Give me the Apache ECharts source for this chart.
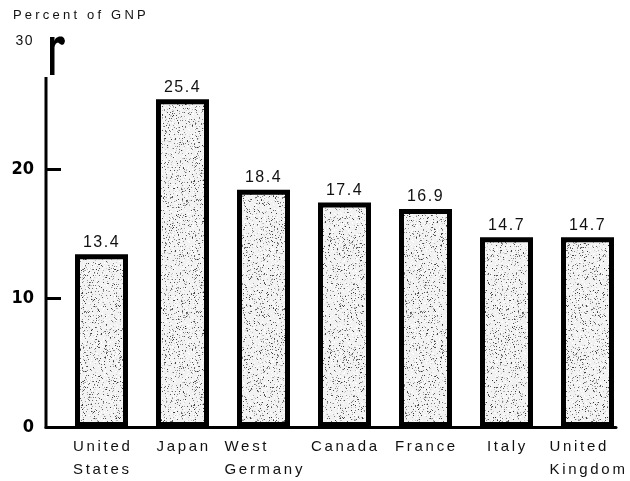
<!DOCTYPE html>
<html>
<head>
<meta charset="utf-8">
<script src="https://cdn.jsdelivr.net/npm/echarts@6/dist/echarts.min.js"></script>
<style>
  html, body { margin: 0; padding: 0; background: #fff; }
  #chart { width: 630px; height: 481px; }
</style>
</head>
<body>
<div id="chart"></div>
<script>
// Gross fixed investment as a share of GNP, by country
const countries = ['United\nStates', 'Japan', 'West\nGermany', 'Canada', 'France', 'Italy', 'United\nKingdom'];
const investmentShare = [13.4, 25.4, 18.4, 17.4, 16.9, 14.7, 14.7];
const yTicks = [0, 10, 20, 30];
const axisTitle = 'Percent of GNP';

const SANS = '"Liberation Sans", Arial, Helvetica, sans-serif';
const NARROW = '"Liberation Sans Narrow", "DejaVu Sans Condensed", "Liberation Sans", sans-serif';
const LABEL_TRACKING = 2.7;

// Typewriter-like tracking for a few strings: canvas letterSpacing applied while they are painted
const spacing = new Map();
countries.forEach(c => c.split('\n').forEach(line => spacing.set(line, LABEL_TRACKING)));
spacing.set(axisTitle, 3.2);
spacing.set(String(yTicks[yTicks.length - 1]), 1.5);

(function () {
  const proto = CanvasRenderingContext2D.prototype;
  const origFill = proto.fillText;
  proto.fillText = function (text) {
    const s = spacing.get(String(text));
    if (s && 'letterSpacing' in this) {
      const prev = this.letterSpacing;
      this.letterSpacing = s + 'px';
      const r = origFill.apply(this, arguments);
      this.letterSpacing = prev;
      return r;
    }
    return origFill.apply(this, arguments);
  };
})();

// Width of each category label block (longest line, tracking included)
const measureCtx = document.createElement('canvas').getContext('2d');
measureCtx.font = '15px ' + SANS;
const labelRich = {};
countries.forEach((c, i) => {
  const w = Math.max(...c.split('\n').map(l => measureCtx.measureText(l).width + LABEL_TRACKING * (l.length - 1)));
  labelRich['c' + i] = { width: Math.ceil(w), align: 'left', fontSize: 15, lineHeight: 23, fontFamily: SANS, color: '#111' };
});

// Speckled grey fill for the bars
function stipple() {
  const size = 112;
  const c = document.createElement('canvas');
  c.width = c.height = size;
  const g = c.getContext('2d');
  g.fillStyle = '#f2f2f2';
  g.fillRect(0, 0, size, size);
  let seed = 20240611;
  const next = () => (seed = (seed * 1103515245 + 12345) & 0x7fffffff) / 0x7fffffff;
  for (let y = 0; y < size; y++) {
    for (let x = 0; x < size; x++) {
      const r = next();
      if (r < 0.12) {
        const v = Math.floor(50 + next() * 170);
        g.fillStyle = 'rgb(' + v + ',' + v + ',' + v + ')';
        g.fillRect(x, y, 1, 1);
      } else if (r > 0.9) {
        g.fillStyle = '#ffffff';
        g.fillRect(x, y, 1, 1);
      }
    }
  }
  return c;
}

const yMin = yTicks[0], yMax = yTicks[yTicks.length - 1], yStep = yTicks[1] - yTicks[0];
const innerTicks = yTicks.filter(v => v > yMin && v < yMax);

const chart = echarts.init(document.getElementById('chart'), null, { renderer: 'canvas' });
chart.setOption({
  animation: false,
  backgroundColor: '#fff',
  title: {
    text: axisTitle,
    left: 8,
    top: 4,
    textStyle: { fontSize: 13, fontWeight: 'normal', color: '#111', fontFamily: SANS }
  },
  grid: [
    // frame: y axis and baseline
    { left: 46, right: 14, top: 40, bottom: 54 },
    // bars and category labels
    { left: 61, right: 2, top: 40, bottom: 54 }
  ],
  xAxis: [
    {
      gridIndex: 0, type: 'value', min: 0, max: 1,
      axisLine: { show: true, lineStyle: { color: '#000', width: 3 } },
      axisTick: { show: false }, axisLabel: { show: false }, splitLine: { show: false }
    },
    {
      gridIndex: 1, type: 'category', data: countries,
      axisLine: { show: false }, axisTick: { show: false },
      axisLabel: {
        interval: 0,
        margin: 8,
        formatter: (v, i) => v.split('\n').map(l => '{c' + i + '|' + l + '}').join('\n'),
        rich: labelRich
      }
    }
  ],
  yAxis: [
    {
      gridIndex: 0, type: 'value', min: yMin, max: yMax, interval: yStep,
      axisLine: { show: false },
      axisTick: { show: true, inside: true, length: 15, customValues: innerTicks, lineStyle: { color: '#000', width: 3 } },
      splitLine: { show: false },
      axisLabel: {
        margin: 12,
        formatter: v => v === yMax ? '{a|' + v + '}' : '{b|' + v + '}',
        rich: {
          a: { fontSize: 14, fontFamily: SANS, color: '#111', padding: [2, 0, 0, 0] },
          b: { fontSize: 18, fontWeight: 'bold', fontFamily: NARROW, color: '#000' }
        }
      }
    },
    {
      gridIndex: 1, type: 'value', min: yMin, max: yMax, interval: yStep, show: false
    }
  ],
  series: [{
    type: 'bar',
    xAxisIndex: 1,
    yAxisIndex: 1,
    data: investmentShare,
    barWidth: 53,
    itemStyle: {
      color: { image: stipple(), repeat: 'repeat' },
      borderColor: '#000',
      borderWidth: 5
    },
    label: {
      show: true,
      position: 'top',
      distance: 4,
      fontSize: 16,
      color: '#111',
      fontFamily: SANS
    }
  }]
});

// Vertical axis: a plain rule below, and a hooked cap at the top of the scale
const ax = chart.convertToPixel({ xAxisIndex: 0 }, 0);
const y0 = chart.convertToPixel({ yAxisIndex: 0 }, yMin);
const yTop = chart.convertToPixel({ yAxisIndex: 0 }, yMax);
chart.setOption({
  graphic: [
    {
      type: 'line', silent: true,
      shape: { x1: ax, y1: y0 + 1.5, x2: ax, y2: yTop + 37 },
      style: { stroke: '#000', lineWidth: 3 }
    },
    {
      type: 'rect', silent: true,
      shape: { x: ax + 4, y: yTop - 3, width: 4.5, height: 38 },
      style: { fill: '#000' }
    },
    {
      type: 'polygon', silent: true,
      shape: {
        points: [
          [ax + 7, yTop + 7], [ax + 8, yTop + 1], [ax + 10, yTop - 2], [ax + 13, yTop - 3.5],
          [ax + 16, yTop - 3.5], [ax + 18, yTop - 2], [ax + 19, yTop + 1], [ax + 18, yTop + 4],
          [ax + 16, yTop + 5], [ax + 14, yTop + 4], [ax + 12, yTop + 2.5], [ax + 10, yTop + 3.5],
          [ax + 8, yTop + 7]
        ]
      },
      style: { fill: '#000' }
    }
  ]
});
</script>
</body>
</html>
